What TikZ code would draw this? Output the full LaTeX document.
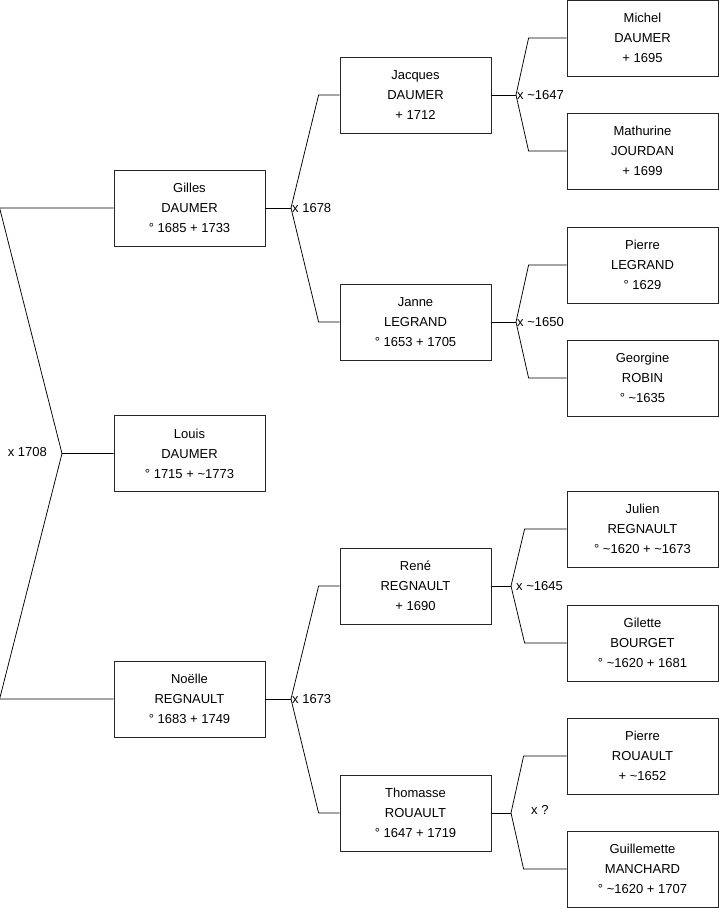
\documentclass[tikz,border=0pt]{standalone}
\usepackage{fontspec}
\setmainfont{Liberation Sans}
\begin{document}
\begin{tikzpicture}[x=1pt,y=1pt,
  every node/.style={font=\fontsize{13}{20}\selectfont},
  person/.style={draw=black!85,line width=0.8pt,minimum width=151pt,
    minimum height=76pt,inner sep=0pt,align=center},
  link/.style={black,line width=0.75pt},
  union/.style={inner sep=1pt}]
  \useasboundingbox (0,0) rectangle (719,908);

  % generation 1 and 2
  \node[person] (louis) at (189.5,454.5) {Louis\\DAUMER\\° 1715 + \textasciitilde1773};
  \node[person] (gilles) at (189.5,700) {Gilles\\DAUMER\\° 1685 + 1733};
  \node[person] (noelle) at (189.5,209) {Noëlle\\REGNAULT\\° 1683 + 1749};

  % generation 3
  \node[person] (jacques) at (415.5,813) {Jacques\\DAUMER\\+ 1712};
  \node[person] (janne) at (415.5,586) {Janne\\LEGRAND\\° 1653 + 1705};
  \node[person] (rene) at (415.5,322) {René\\REGNAULT\\+ 1690};
  \node[person] (thomasse) at (415.5,95) {Thomasse\\ROUAULT\\° 1647 + 1719};

  % generation 4
  \node[person] (michel) at (642.5,870) {Michel\\DAUMER\\+ 1695};
  \node[person] (mathurine) at (642.5,757) {Mathurine\\JOURDAN\\+ 1699};
  \node[person] (pierrel) at (642.5,643) {Pierre\\LEGRAND\\° 1629};
  \node[person] (georgine) at (642.5,530) {Georgine\\ROBIN\\° \textasciitilde1635};
  \node[person] (julien) at (642.5,379) {Julien\\REGNAULT\\° \textasciitilde1620 + \textasciitilde1673};
  \node[person] (gilette) at (642.5,265) {Gilette\\BOURGET\\° \textasciitilde1620 + 1681};
  \node[person] (pierrer) at (642.5,152) {Pierre\\ROUAULT\\+ \textasciitilde1652};
  \node[person] (guillemette) at (642.5,39) {Guillemette\\MANCHARD\\° \textasciitilde1620 + 1707};

  % marriage points
  \coordinate (u0) at (62,454.5);
  \coordinate (u1) at (291,700);
  \coordinate (u2) at (291,209);
  \coordinate (u3) at (516,813);
  \coordinate (u4) at (516,586);
  \coordinate (u5) at (511,322);
  \coordinate (u6) at (511,95);

  \draw[link] (gilles.west) -- ++(-114,0) -- (u0) -- (louis.west);
  \draw[link] (noelle.west) -- ++(-114,0) -- (u0);

  \foreach \u/\p/\a/\b in {u1/gilles/jacques/janne,u2/noelle/rene/thomasse}
  {
    \draw[link] (\p.east) -- (\u);
    \draw[link] (\a.west) -- ++(-21,0) -- (\u);
    \draw[link] (\b.west) -- ++(-21,0) -- (\u);
  }
  \foreach \u/\p/\a/\b/\d in {u3/jacques/michel/mathurine/38,
    u4/janne/pierrel/georgine/38,u5/rene/julien/gilette/42,
    u6/thomasse/pierrer/guillemette/43}
  {
    \draw[link] (\p.east) -- (\u);
    \draw[link] (\a.west) -- ++(-\d,0) -- (\u);
    \draw[link] (\b.west) -- ++(-\d,0) -- (\u);
  }

  % marriage dates
  \node[union,anchor=east] (m0) at (48,456) {x 1708};
  \node[union,anchor=west] (m1) at (u1) {x 1678};
  \node[union,anchor=west] (m2) at (u2) {x 1673};
  \node[union,anchor=west] (m3) at (u3) {x \textasciitilde1647};
  \node[union,anchor=west] (m4) at (u4) {x \textasciitilde1650};
  \node[union,anchor=west] (m5) at ([xshift=4pt]u5) {x \textasciitilde1645};
  \node[union,anchor=west] (m6) at (530,98) {x ?};
\end{tikzpicture}
\end{document}
